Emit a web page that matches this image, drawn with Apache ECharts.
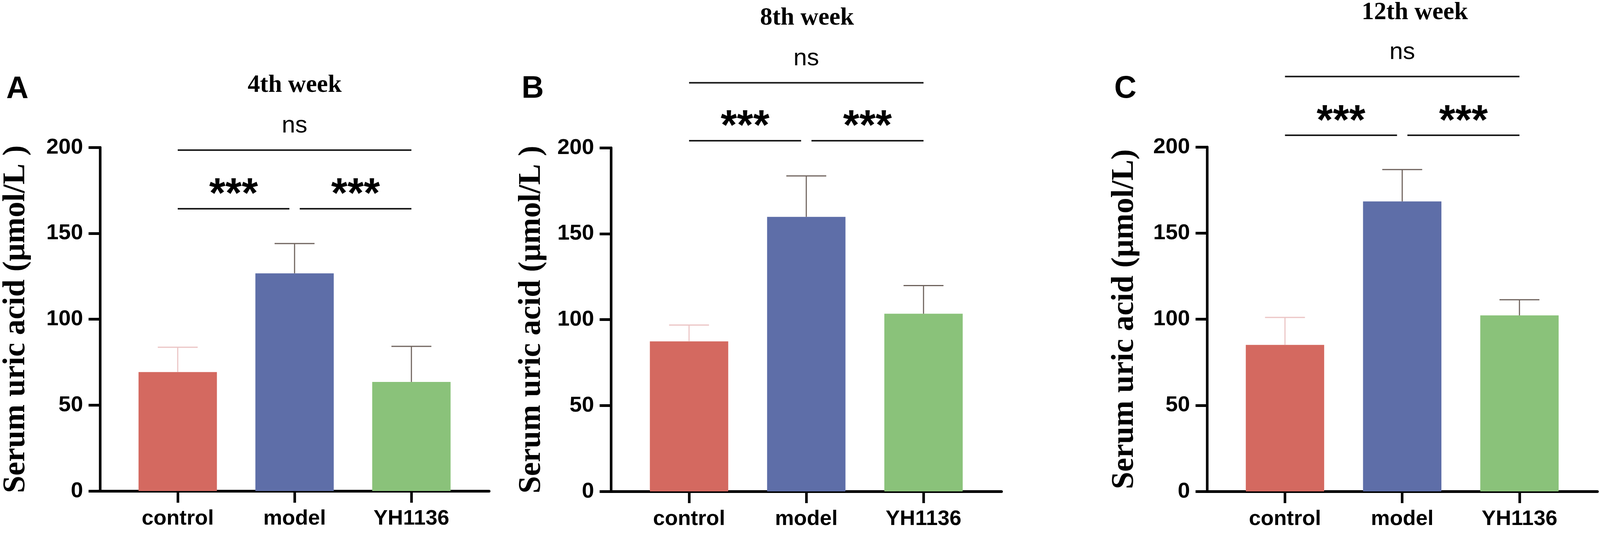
<!DOCTYPE html>
<html>
<head>
<meta charset="utf-8">
<title>Serum uric acid</title>
<script src="https://cdn.jsdelivr.net/npm/echarts@6/dist/echarts.min.js"></script>
<style>
html, body { margin: 0; padding: 0; background: #fff; overflow: hidden; }
#main { width: 100vw; height: 100vh; }
</style>
</head>
<body>
<div id="main"></div>
<script>
var categories = ['control', 'model', 'YH1136'];
var weekTitles = ['4th week', '8th week', '12th week'];
var panelLetters = ['A', 'B', 'C'];
var yNames = ['Serum uric acid (μmol/L )', 'Serum uric acid (μmol/L )', 'Serum uric acid (μmol/L)'];

// mean / SD
var meanWeek4 = [69.2, 126.7, 63.5];
var sdWeek4 = [14.5, 17.3, 20.7];
var meanWeek8 = [87.3, 159.8, 103.4];
var sdWeek8 = [9.5, 23.8, 16.4];
var meanWeek12 = [85.1, 168.4, 102.2];
var sdWeek12 = [15.9, 18.5, 9.1];

// comparisons
var compFrom = [0, 0, 1];
var compTo = [2, 1, 2];
var compLabel = ['ns', '***', '***'];
var nsHeight = [198.4, 237.8, 240.9];   // y of the ns line, per week
var starHeight = [164.3, 204.1, 206.8]; // y of the *** lines, per week

var means = [meanWeek4, meanWeek8, meanWeek12];
var sds = [sdWeek4, sdWeek8, sdWeek12];

// layout, in pixels of a 4328x1366 canvas (scaled to the real window below)
var gridLeft = [267, 1653, 3265];
var gridTop = [377, 378, 376];
var gridH = [879, 879, 881];
var titleX = [797, 2183, 3827];
var titleY = [219, 47, 33];
var letterX = [17, 1411, 3014];
var letterY = [229, 228, 228];
var nameGaps = [185, 172, 180];

var barColors = ['#d46960', '#5e6ea8', '#8ac27a'];
var errColors = ['#ebc4c4', '#6e625c', '#6e625c'];

var SANS = '"Liberation Sans", Arial, sans-serif';
var SERIF = '"Liberation Serif", "Times New Roman", serif';

var dom = document.getElementById('main');
var W = dom.clientWidth || 4328;
var H = dom.clientHeight || 1366;
var sx = W / 4328, sy = H / 1366;
var sf = Math.sqrt(sx * sy); // font scale

var myChart = echarts.init(dom);

function renderError(params, api) {
    var x = api.value(0);
    var m = api.value(1);
    var sd = api.value(2);
    var base = api.coord([x, m]);
    var top = api.coord([x, m + sd]);
    var c = errColors[params.dataIndex];
    var half = 54 * sx;
    return {
        type: 'group',
        children: [
            { type: 'line', shape: { x1: base[0], y1: base[1], x2: top[0], y2: top[1] }, style: { stroke: c, lineWidth: 3 * sx } },
            { type: 'line', shape: { x1: top[0] - half, y1: top[1], x2: top[0] + half, y2: top[1] }, style: { stroke: c, lineWidth: 3 * sy } }
        ]
    };
}

function renderBracket(params, api) {
    var i = params.dataIndex;
    var p1 = api.coord([api.value(0), api.value(2)]);
    var p2 = api.coord([api.value(1), api.value(2)]);
    var x1 = p1[0], x2 = p2[0];
    // adjacent brackets leave a small gap over the middle bar
    if (compTo[i] - compFrom[i] === 1) {
        if (compFrom[i] === 1) x1 += 14 * sx;
        if (compTo[i] === 1) x2 -= 14 * sx;
    }
    var isNs = compLabel[i] === 'ns';
    return {
        type: 'group',
        children: [
            { type: 'line', shape: { x1: x1, y1: p1[1], x2: x2, y2: p1[1] }, style: { stroke: '#1a1a1a', lineWidth: 4 * sy } },
            {
                type: 'text',
                x: (x1 + x2) / 2,
                y: p1[1] - (isNs ? 62 : 33) * sy,
                style: {
                    text: compLabel[i],
                    fill: '#000',
                    font: isNs ? ('normal ' + Math.round(64 * sf) + 'px ' + SANS) : ('bold ' + Math.round(110 * sf) + 'px ' + SANS),
                    textAlign: 'center',
                    textVerticalAlign: 'middle'
                }
            }
        ]
    };
}

var grids = [], xAxes = [], yAxes = [], series = [], titles = [];

for (var p = 0; p < 3; p++) {
    grids.push({ left: gridLeft[p] * sx, top: gridTop[p] * sy, width: 1056 * sx, height: gridH[p] * sy, containLabel: false });

    xAxes.push({
        type: 'value',
        gridIndex: p,
        min: -0.665,
        max: 2.665,
        axisLine: { onZero: false, lineStyle: { color: '#000', width: 7 * sy } },
        axisTick: { customValues: [0, 1, 2], length: 30 * sy, lineStyle: { color: '#000', width: 7 * sx } },
        axisLabel: {
            customValues: [0, 1, 2],
            formatter: function (v) { return categories[Math.round(v)]; },
            margin: 44 * sy,
            color: '#000',
            fontFamily: SANS,
            fontWeight: 'bold',
            fontSize: 56 * sf
        },
        splitLine: { show: false }
    });

    yAxes.push({
        type: 'value',
        gridIndex: p,
        min: 0,
        max: 200,
        interval: 50,
        name: yNames[p],
        nameLocation: 'middle',
        nameRotate: 90,
        nameGap: nameGaps[p] * sx,
        nameTextStyle: { color: '#000', fontFamily: SERIF, fontWeight: 'bold', fontSize: 80 * sy },
        axisLine: { show: true, onZero: false, lineStyle: { color: '#000', width: 7 * sx } },
        axisTick: { show: true, length: 31 * sx, lineStyle: { color: '#000', width: 7 * sy } },
        axisLabel: { margin: 46 * sx, color: '#000', fontFamily: SANS, fontWeight: 'bold', fontSize: 58 * sf },
        splitLine: { show: false }
    });

    var barData = [], errData = [], brData = [];
    for (var k = 0; k < 3; k++) {
        barData.push({ value: [k, means[p][k]], itemStyle: { color: barColors[k] } });
        errData.push([k, means[p][k], sds[p][k]]);
        brData.push([compFrom[k], compTo[k], compLabel[k] === 'ns' ? nsHeight[p] : starHeight[p]]);
    }

    series.push({
        type: 'bar',
        xAxisIndex: p,
        yAxisIndex: p,
        barWidth: 212 * sx,
        data: barData,
        silent: true
    });
    series.push({
        type: 'custom',
        xAxisIndex: p,
        yAxisIndex: p,
        renderItem: renderError,
        encode: { x: 0, y: 1 },
        data: errData,
        z: 5,
        silent: true
    });
    series.push({
        type: 'custom',
        xAxisIndex: p,
        yAxisIndex: p,
        renderItem: renderBracket,
        encode: { x: [0, 1], y: 2 },
        data: brData,
        z: 5,
        silent: true
    });

    titles.push({
        text: weekTitles[p],
        left: titleX[p] * sx,
        top: titleY[p] * sy,
        padding: 0,
        textAlign: 'center',
        textVerticalAlign: 'middle',
        textStyle: { color: '#000', fontFamily: SERIF, fontWeight: 'bold', fontSize: 65 * sf }
    });
    titles.push({
        text: panelLetters[p],
        left: letterX[p] * sx,
        top: letterY[p] * sy,
        padding: 0,
        textAlign: 'left',
        textVerticalAlign: 'middle',
        textStyle: { color: '#000', fontFamily: SANS, fontWeight: 'bold', fontSize: 81 * sf }
    });
}

var option = {
    backgroundColor: '#fff',
    animation: false,
    title: titles,
    grid: grids,
    xAxis: xAxes,
    yAxis: yAxes,
    series: series
};

myChart.setOption(option);

window.addEventListener('resize', function () {
    myChart.resize();
});
</script>
</body>
</html>
